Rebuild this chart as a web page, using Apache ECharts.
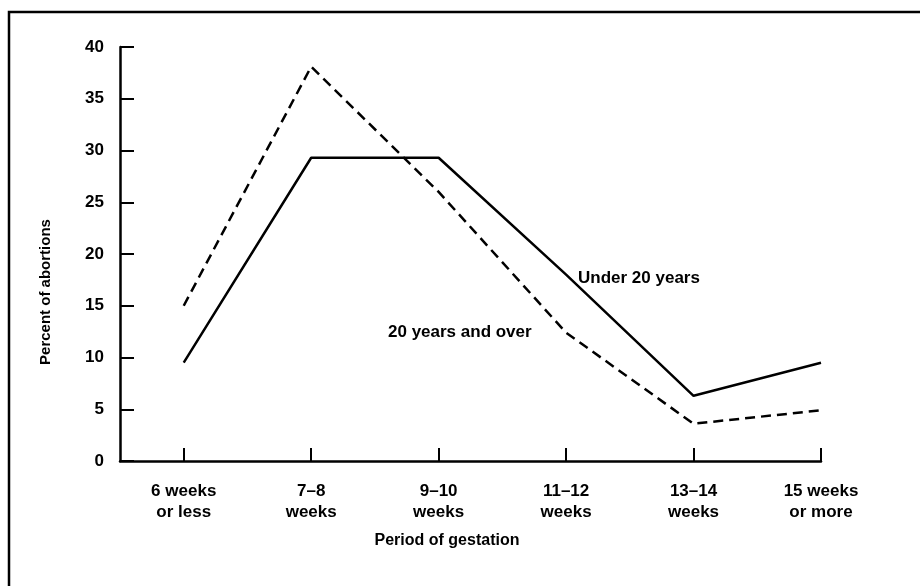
<!DOCTYPE html>
<html>
<head>
<meta charset="utf-8">
<script src="https://cdn.jsdelivr.net/npm/echarts@6/dist/echarts.min.js"></script>
<style>
html, body { margin: 0; padding: 0; background: #fff; }
#chart { width: 920px; height: 586px; }
</style>
</head>
<body>
<div id="chart"></div>
<script>
var categories = ['6 weeks\nor less', '7\u20138\nweeks', '9\u201310\nweeks', '11\u201312\nweeks', '13\u201314\nweeks', '15 weeks\nor more'];
var under20 = [9.5, 29.3, 29.3, 18, 6.3, 9.5];
var over20 = [15, 38.1, 26, 12.4, 3.6, 4.9];
var yTicks = [0, 5, 10, 15, 20, 25, 30, 35, 40];

var font = 'Liberation Sans, Arial, sans-serif';
var myCharts = echarts.init(document.getElementById('chart'));

function toPoints(arr) {
	return arr.map(function (v, i) { return [i, v]; });
}
var catIdx = categories.map(function (c, i) { return i; });

var option = {
	backgroundColor: '#fff',
	animation: false,
	grid: {
		left: 120,
		right: 99,
		top: 47,
		bottom: 125,
		containLabel: false
	},
	xAxis: {
		type: 'value',
		min: -0.5,
		max: 5,
		splitLine: { show: false },
		axisLine: { show: true, onZero: false, lineStyle: { color: '#000', width: 2.5 } },
		axisTick: {
			show: true,
			inside: true,
			length: 13,
			customValues: catIdx,
			lineStyle: { color: '#000', width: 2 }
		},
		axisLabel: {
			show: true,
			margin: 20,
			customValues: catIdx,
			color: '#000',
			fontFamily: font,
			fontWeight: 'bold',
			fontSize: 17,
			lineHeight: 21,
			align: 'center',
			formatter: function (v) {
				return categories[Math.round(v)] || '';
			}
		}
	},
	yAxis: {
		type: 'value',
		min: 0,
		max: 40,
		interval: 5,
		splitLine: { show: false },
		axisLine: { show: true, onZero: false, lineStyle: { color: '#000', width: 2.5 } },
		axisTick: {
			show: true,
			inside: true,
			length: 14,
			lineStyle: { color: '#000', width: 2 }
		},
		axisLabel: {
			show: true,
			margin: 16,
			color: '#000',
			fontFamily: font,
			fontWeight: 'bold',
			fontSize: 17,
			formatter: function (v) {
				return yTicks.indexOf(v) >= 0 ? String(v) : '';
			}
		}
	},
	series: [
	{
		name: 'Under 20 years',
		type: 'line',
		showSymbol: false,
		symbol: 'none',
		lineStyle: { color: '#000', width: 2.5, type: 'solid' },
		data: toPoints(under20)
	},
	{
		name: '20 years and over',
		type: 'line',
		showSymbol: false,
		symbol: 'none',
		lineStyle: { color: '#000', width: 2.5, type: [10, 6] },
		data: toPoints(over20)
	}
	],
	graphic: [
	{
		type: 'polyline',
		shape: { points: [[9, 586], [9, 12], [920, 12]] },
		style: { stroke: '#000', lineWidth: 2.5, fill: null }
	},
	{
		type: 'text',
		x: 46,
		y: 292,
		rotation: Math.PI / 2,
		style: {
			text: 'Percent of abortions',
			fill: '#000',
			font: 'bold 15px ' + font,
			align: 'center',
			verticalAlign: 'middle'
		}
	},
	{
		type: 'text',
		x: 447,
		y: 541,
		style: {
			text: 'Period of gestation',
			fill: '#000',
			font: 'bold 16px ' + font,
			align: 'center',
			verticalAlign: 'middle'
		}
	},
	{
		type: 'text',
		x: 578,
		y: 278,
		style: {
			text: 'Under 20 years',
			fill: '#000',
			font: 'bold 17px ' + font,
			align: 'left',
			verticalAlign: 'middle'
		}
	},
	{
		type: 'text',
		x: 388,
		y: 332,
		style: {
			text: '20 years and over',
			fill: '#000',
			font: 'bold 17px ' + font,
			align: 'left',
			verticalAlign: 'middle'
		}
	}
	]
};
myCharts.setOption(option);
</script>
</body>
</html>
